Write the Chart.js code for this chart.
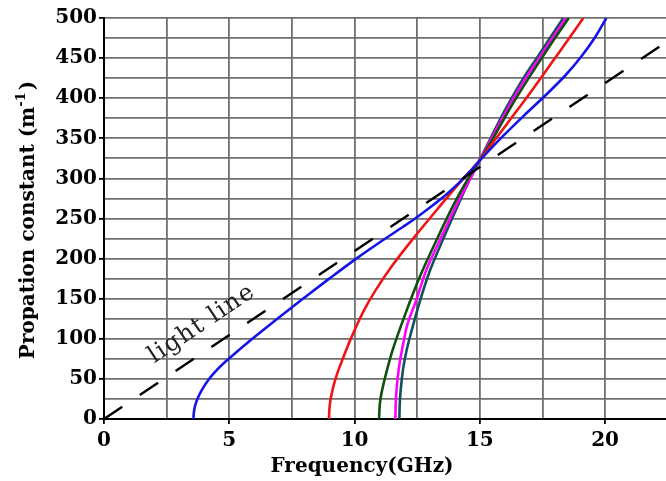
<!DOCTYPE html>
<html>
<head>
<meta charset="utf-8">
<script src="https://cdn.jsdelivr.net/npm/chart.js@4/dist/chart.umd.min.js"></script>
<style>
  html, body { margin: 0; padding: 0; background: #ffffff; }
  #wrap { width: 666px; height: 481px; position: relative; }
</style>
</head>
<body>
<div id="wrap"><canvas id="c" width="666" height="481"></canvas></div>
<script>
// ---- data ----
const xTickValues = [0, 2.5, 5, 7.5, 10, 12.5, 15, 17.5, 20];
const xTickLabels = ['0', '', '5', '', '10', '', '15', '', '20'];
const yTickValues = [0, 25, 50, 75, 100, 125, 150, 175, 200, 225, 250, 275, 300, 325, 350, 375, 400, 425, 450, 475, 500];
const yTickLabels = ['0', '', '50', '', '100', '', '150', '', '200', '', '250', '', '300', '', '350', '', '400', '', '450', '', '500'];

const xTitle = 'Frequency(GHz)';
const yTitleMain = 'Propation constant (m';
const yTitleSup = '-1';
const yTitleEnd = ')';
const lightLabel = 'light line';
const lightLabelPos = [4.05, 112];

const lightF = [0, 22.43];
const lightB = [0, 469.7];

const blueF = [3.57, 3.58, 3.61, 3.67, 3.77, 3.92, 4.17, 4.47, 4.83, 5.05, 5.92, 6.88, 7.9, 8.99, 10.07, 11.04, 11.95, 12.46, 13.06, 13.66, 14.19, 14.59, 15.02, 15.9, 16.75, 17.6, 18.4, 19.05, 19.6, 20.05];
const blueB = [0, 6, 13, 20, 28, 37, 49, 60, 71, 77, 100, 124, 149, 175, 200, 221, 240, 251, 265, 280, 295, 308, 323, 352, 378, 403, 428, 452, 476, 500];

const redF = [8.98, 8.99, 9.01, 9.05, 9.1, 9.15, 9.3, 9.49, 9.69, 9.89, 10.35, 10.83, 11.52, 12.47, 13.37, 14.18, 15.0, 15.65, 16.25, 16.85, 17.43, 18.0, 18.57, 19.13];
const redB = [0, 9, 17, 26, 33, 40, 56, 72, 88, 103, 134, 160, 192, 230, 264, 294, 323, 350, 375, 400, 425, 450, 475, 500];

const greenF = [10.98, 10.99, 11.02, 11.1, 11.22, 11.5, 12.05, 12.6, 13.3, 13.95, 14.5, 15.0, 15.53, 15.98, 16.45, 16.95, 17.47, 18.0, 18.55];
const greenB = [0, 10, 22, 36, 52, 84, 133, 177, 225, 267, 298, 323, 350, 375, 400, 425, 450, 475, 500];

const magentaF = [11.63, 11.64, 11.67, 11.72, 11.8, 11.95, 12.1, 12.45, 12.88, 13.48, 14.08, 14.61, 15.0, 15.47, 15.9, 16.35, 16.83, 17.37, 17.9, 18.44];
const magentaB = [0, 17, 34, 51, 70, 95, 117, 147, 187, 228, 268, 299, 323, 350, 375, 400, 425, 450, 475, 500];

const tealF = [11.79, 11.8, 11.83, 11.88, 11.95, 12.08, 12.25, 12.58, 13.02, 13.6, 14.12, 14.65, 15.0, 15.43, 15.83, 16.27, 16.74, 17.27, 17.8, 18.33];
const tealB = [0, 16, 32, 48, 65, 86, 107, 144, 186, 229, 266, 302, 323, 350, 375, 400, 425, 450, 475, 500];

// ---- build chart ----
const pts = (xs, ys) => xs.map((x, i) => ({ x: x, y: ys[i] }));
const SERIF = '"DejaVu Serif", "Liberation Serif", serif';

function curve(xs, ys, color) {
  return {
    data: pts(xs, ys),
    showLine: true,
    borderColor: color,
    borderWidth: 2.6,
    pointRadius: 0,
    fill: false,
    indexAxis: 'y',
    cubicInterpolationMode: 'monotone'
  };
}

const textPlugin = {
  id: 'texts',
  afterDraw(chart) {
    const ctx = chart.ctx;
    const xs = chart.scales.x, ys = chart.scales.y;
    // x title
    ctx.save();
    ctx.fillStyle = '#000';
    ctx.font = 'bold 20px ' + SERIF;
    ctx.textAlign = 'center';
    ctx.textBaseline = 'alphabetic';
    ctx.fillText(xTitle, 362, 472);
    ctx.restore();

    // y title (rotated)
    ctx.save();
    ctx.fillStyle = '#000';
    const mainFont = 'bold 20px ' + SERIF;
    const supFont = 'bold 13px ' + SERIF;
    ctx.font = mainFont;
    const wMain = ctx.measureText(yTitleMain).width;
    const wEnd = ctx.measureText(yTitleEnd).width;
    ctx.font = supFont;
    const wSup = ctx.measureText(yTitleSup).width;
    const total = wMain + wSup + 2 + wEnd;
    ctx.translate(34, 220);
    ctx.rotate(-Math.PI / 2);
    ctx.textAlign = 'left';
    ctx.textBaseline = 'alphabetic';
    let x0 = -total / 2;
    ctx.font = mainFont;
    ctx.fillText(yTitleMain, x0, 0);
    x0 += wMain;
    ctx.font = supFont;
    ctx.fillText(yTitleSup, x0, -9);
    x0 += wSup + 2;
    ctx.font = mainFont;
    ctx.fillText(yTitleEnd, x0, 0);
    ctx.restore();

    // light line label
    ctx.save();
    const px = xs.getPixelForValue(lightLabelPos[0]);
    const py = ys.getPixelForValue(lightLabelPos[1]);
    const ang = Math.atan2(
      ys.getPixelForValue(lightB[1]) - ys.getPixelForValue(lightB[0]),
      xs.getPixelForValue(lightF[1]) - xs.getPixelForValue(lightF[0]));
    ctx.translate(px, py);
    ctx.rotate(ang);
    ctx.fillStyle = '#222';
    ctx.font = '24px ' + SERIF;
    try { ctx.letterSpacing = '1.5px'; } catch (e) {}
    ctx.textAlign = 'center';
    ctx.textBaseline = 'alphabetic';
    ctx.fillText(lightLabel, 0, 0);
    ctx.restore();
  }
};

new Chart(document.getElementById('c'), {
  type: 'scatter',
  data: {
    datasets: [
      {
        data: pts(lightF, lightB),
        showLine: true,
        borderColor: '#000',
        borderWidth: 2.4,
        borderDash: [22, 21.1],
        pointRadius: 0,
        fill: false
      },
      curve(blueF, blueB, '#1414e6'),
      curve(redF, redB, '#f01414'),
      curve(greenF, greenB, '#0f500f'),
      curve(magentaF, magentaB, '#ff00ff'),
      curve(tealF, tealB, '#12505c')
    ]
  },
  options: {
    responsive: false,
    animation: false,
    events: [],
    layout: { padding: { top: 18, right: 0, left: 0, bottom: 0 } },
    plugins: { legend: { display: false }, tooltip: { enabled: false } },
    scales: {
      x: {
        type: 'linear',
        min: 0,
        max: 22.43,
        afterFit(scale) { scale.height = 62; },
        afterBuildTicks(scale) { scale.ticks = xTickValues.map(v => ({ value: v })); },
        grid: {
          color: '#707070',
          lineWidth: 1.8,
          drawTicks: true,
          tickLength: 5,
          tickColor: (c) => (c.tick && xTickLabels[xTickValues.indexOf(c.tick.value)] !== '') ? '#000' : 'rgba(0,0,0,0)'
        },
        border: { display: true, color: '#000', width: 2 },
        ticks: {
          autoSkip: false,
          maxRotation: 0,
          padding: 5,
          color: '#000',
          font: { family: SERIF, weight: 'bold', size: 20 },
          callback: (v) => { const i = xTickValues.indexOf(v); return i >= 0 ? xTickLabels[i] : ''; }
        }
      },
      y: {
        type: 'linear',
        min: 0,
        max: 500,
        afterFit(scale) { scale.width = 104; },
        afterBuildTicks(scale) { scale.ticks = yTickValues.map(v => ({ value: v })); },
        grid: {
          color: '#707070',
          lineWidth: 1.8,
          drawTicks: true,
          tickLength: 5,
          tickColor: (c) => (c.tick && yTickLabels[yTickValues.indexOf(c.tick.value)] !== '') ? '#000' : 'rgba(0,0,0,0)'
        },
        border: { display: true, color: '#000', width: 2 },
        ticks: {
          autoSkip: false,
          padding: 2,
          color: '#000',
          font: { family: SERIF, weight: 'bold', size: 20 },
          callback: (v) => { const i = yTickValues.indexOf(v); return i >= 0 ? yTickLabels[i] : ''; }
        }
      }
    }
  },
  plugins: [textPlugin]
});
</script>
</body>
</html>
